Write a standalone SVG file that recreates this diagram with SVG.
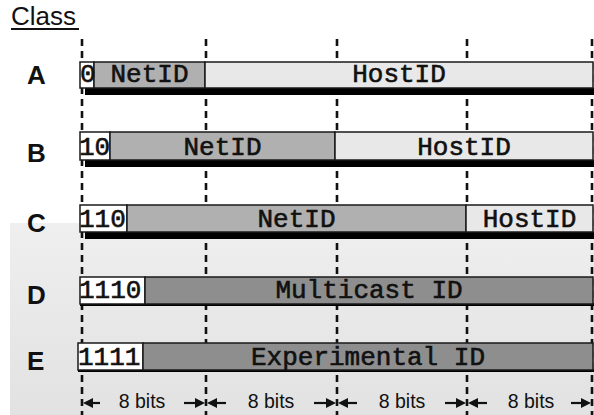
<svg xmlns="http://www.w3.org/2000/svg" width="594" height="415" viewBox="0 0 594 415">
<style>
.cls{font-family:"Liberation Sans",Arial,sans-serif;font-weight:bold;font-size:26px;fill:#111}
.fld{font-family:"Liberation Mono","Courier New",monospace;font-size:26px;fill:#111;stroke:#111;stroke-width:0.6}
.bits{font-family:"Liberation Sans",Arial,sans-serif;font-size:19.5px;fill:#111}
.box{stroke:#1a1a1a;stroke-width:1.5}
.pre{fill:#fff}
.net{fill:#b0b0b0}
.host{fill:#e8e8e8}
.dark{fill:#8e8e8e}
.dash{stroke:#111;stroke-width:2.6;stroke-dasharray:7 5;fill:none}
.shaft{stroke:#111;stroke-width:2.2;fill:none}
.head{fill:#111}
.shadow{fill:#000}
</style>
<defs>
<linearGradient id="bg" x1="0" y1="0" x2="0" y2="1">
<stop offset="0" stop-color="#efefef"/>
<stop offset="0.5" stop-color="#e8e8e8"/>
<stop offset="1" stop-color="#e2e2e2"/>
</linearGradient>
<path id="hl" d="M0,0 L10,-5 L10,5 z"/>
<path id="hr" d="M0,0 L-10,-5 L-10,5 z"/>
</defs>
<rect width="594" height="415" fill="#fff"/>
<rect x="10" y="223" width="584" height="192" fill="url(#bg)"/>

<g id="title">
<text x="11" y="25" font-family="Liberation Sans,Arial,sans-serif" font-size="26" fill="#111">Class</text>
<rect x="11" y="28" width="68" height="2" fill="#111"/>
</g>

<g id="connectors">
<line class="dash" x1="82" y1="39" x2="82" y2="415"/>
<line class="dash" x1="206" y1="39" x2="206" y2="415"/>
<line class="dash" x1="337" y1="39" x2="337" y2="415"/>
<line class="dash" x1="467" y1="39" x2="467" y2="415"/>
<line class="dash" x1="592" y1="39" x2="592" y2="415"/>
<line class="shaft" x1="90" y1="403" x2="100" y2="403"/><use href="#hl" class="head" x="83" y="403"/>
<line class="shaft" x1="184" y1="403" x2="196" y2="403"/><use href="#hr" class="head" x="205" y="403"/>
<line class="shaft" x1="215" y1="403" x2="226" y2="403"/><use href="#hl" class="head" x="207" y="403"/>
<line class="shaft" x1="314" y1="403" x2="327" y2="403"/><use href="#hr" class="head" x="336" y="403"/>
<line class="shaft" x1="346" y1="403" x2="357" y2="403"/><use href="#hl" class="head" x="338" y="403"/>
<line class="shaft" x1="445" y1="403" x2="457" y2="403"/><use href="#hr" class="head" x="466" y="403"/>
<line class="shaft" x1="476" y1="403" x2="487" y2="403"/><use href="#hl" class="head" x="468" y="403"/>
<line class="shaft" x1="571" y1="403" x2="582" y2="403"/><use href="#hr" class="head" x="591" y="403"/>
</g>

<g id="bitlabels">
<text class="bits" x="142" y="408" text-anchor="middle">8 bits</text>
<text class="bits" x="271" y="408" text-anchor="middle">8 bits</text>
<text class="bits" x="402" y="408" text-anchor="middle">8 bits</text>
<text class="bits" x="531" y="408" text-anchor="middle">8 bits</text>
</g>

<g id="classA">
<text class="cls" x="27" y="84">A</text>
<rect class="shadow" x="85" y="88" width="509" height="7"/>
<rect class="box pre" x="80" y="62" width="14" height="26"/>
<rect class="box net" x="94" y="62" width="111" height="26"/>
<rect class="box host" x="205" y="62" width="388" height="26"/>
<text class="fld" x="80" y="82">0</text>
<text class="fld" x="149.5" y="82" text-anchor="middle">NetID</text>
<text class="fld" x="399" y="82" text-anchor="middle">HostID</text>
</g>

<g id="classB">
<text class="cls" x="27" y="162">B</text>
<rect class="shadow" x="85" y="160" width="509" height="7"/>
<rect class="box pre" x="80" y="132" width="30" height="28"/>
<rect class="box net" x="110" y="132" width="225" height="28"/>
<rect class="box host" x="335" y="132" width="258" height="28"/>
<text class="fld" x="79" y="155">10</text>
<text class="fld" x="222.5" y="155" text-anchor="middle">NetID</text>
<text class="fld" x="464" y="155" text-anchor="middle">HostID</text>
</g>

<g id="classC">
<text class="cls" x="27" y="232">C</text>
<rect class="shadow" x="85" y="232" width="509" height="7"/>
<rect class="box pre" x="80" y="205" width="47" height="27"/>
<rect class="box net" x="127" y="205" width="339" height="27"/>
<rect class="box host" x="466" y="205" width="127" height="27"/>
<text class="fld" x="79" y="227">110</text>
<text class="fld" x="296.5" y="227" text-anchor="middle">NetID</text>
<text class="fld" x="529.5" y="227" text-anchor="middle">HostID</text>
</g>

<g id="classD">
<text class="cls" x="27" y="304">D</text>
<rect class="shadow" x="80" y="303" width="514" height="3"/>
<rect class="box pre" x="80" y="277" width="65" height="27" stroke-width="2"/>
<rect class="box dark" x="145" y="277" width="448" height="27" stroke-width="2"/>
<text class="fld" x="79" y="298">1110</text>
<text class="fld" x="369" y="298" text-anchor="middle">Multicast ID</text>
</g>

<g id="classE">
<text class="cls" x="27" y="370">E</text>
<rect class="shadow" x="78" y="369" width="516" height="3"/>
<rect class="box pre" x="78" y="343" width="65" height="27" stroke-width="2"/>
<rect class="box dark" x="143" y="343" width="450" height="27" stroke-width="2"/>
<text class="fld" x="78" y="365">1111</text>
<text class="fld" x="368" y="365" text-anchor="middle">Experimental ID</text>
</g>
</svg>
